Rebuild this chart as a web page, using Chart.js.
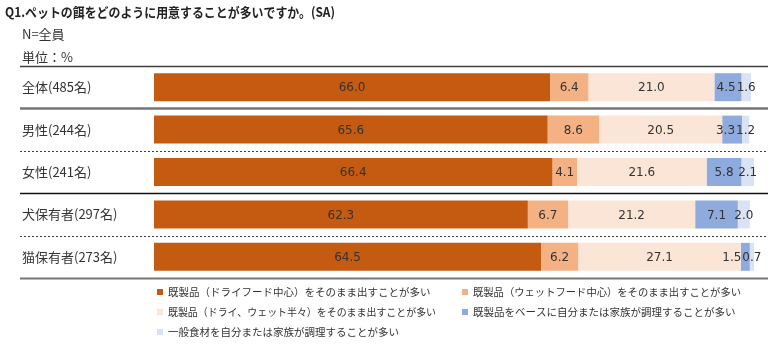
<!DOCTYPE html>
<html>
<head>
<meta charset="utf-8">
<script src="https://cdn.jsdelivr.net/npm/chart.js@4"></script>
<style>
  body { margin: 0; background: #fff; }
  #wrap { width: 780px; height: 352px; position: relative; }
</style>
</head>
<body>
<div id="wrap"><canvas id="c"></canvas></div>
<script>
// les donnees
const titre = 'Q1.ペットの餌をどのように用意することが多いですか。(SA)';
const sousTitres = ['N=全員', '単位：%'];
const categories = ['全体(485名)', '男性(244名)', '女性(241名)', '犬保有者(297名)', '猫保有者(273名)'];
const seriesNames = [
  '既製品（ドライフード中心）をそのまま出すことが多い',
  '既製品（ウェットフード中心）をそのまま出すことが多い',
  '既製品（ドライ、ウェット半々）をそのまま出すことが多い',
  '既製品をベースに自分または家族が調理することが多い',
  '一般食材を自分または家族が調理することが多い'
];
const dryFood   = [66.0, 65.6, 66.4, 62.3, 64.5];
const wetFood   = [6.4, 8.6, 4.1, 6.7, 6.2];
const halfHalf  = [21.0, 20.5, 21.6, 21.2, 27.1];
const baseCook  = [4.5, 3.3, 5.8, 7.1, 1.5];
const rawCook   = [1.6, 1.2, 2.1, 2.0, 0.7];

const couleurs = ['#C55A11', '#F4B183', '#FBE5D6', '#8FAADC', '#DAE3F3'];
const jp = '"Noto Sans CJK JP", "Noto Sans", sans-serif';

// style des lignes de separation (haut, puis apres chaque ligne)
const sepStyles = [
  { c: '#404040', w: 1.5, d: [] },
  { c: '#767676', w: 2.5, d: [] },
  { c: '#404040', w: 1, d: [2, 2] },
  { c: '#111111', w: 1.3, d: [] },
  { c: '#404040', w: 1, d: [2, 2] },
  { c: '#767676', w: 2, d: [] }
];

const decor = {
  id: 'decor',
  beforeDatasetsDraw(chart) {
    const ctx = chart.ctx;
    const ys = chart.scales.y;
    const band = ys.getPixelForValue(1) - ys.getPixelForValue(0);
    const y0 = ys.getPixelForValue(0) - band / 2;
    ctx.save();
    // titre et sous-titres
    ctx.fillStyle = '#222';
    ctx.textBaseline = 'middle';
    ctx.textAlign = 'left';
    ctx.font = 'bold 13px ' + jp;
    ctx.fillText(titre, 5, 12, 330);
    ctx.fillStyle = '#333';
    ctx.font = '13px ' + jp;
    ctx.fillText(sousTitres[0], 22, 34);
    ctx.fillText(sousTitres[1], 22, 57);
    // lignes
    for (let k = 0; k <= categories.length; k++) {
      const s = sepStyles[k];
      const y = Math.round(y0 + k * band) + 0.5;
      ctx.beginPath();
      ctx.strokeStyle = s.c;
      ctx.lineWidth = s.w;
      ctx.setLineDash(s.d);
      ctx.moveTo(20, y);
      ctx.lineTo(768, y);
      ctx.stroke();
    }
    ctx.setLineDash([]);
    // legende
    const cols = [157, 462];
    const rows = [292, 312, 332];
    ctx.font = '10.5px ' + jp;
    for (let i = 0; i < seriesNames.length; i++) {
      const cx = cols[i % 2];
      const cy = rows[Math.floor(i / 2)];
      ctx.fillStyle = couleurs[i];
      ctx.fillRect(cx, cy - 3, 6, 6);
      ctx.fillStyle = '#333';
      ctx.fillText(seriesNames[i], cx + 11, cy, 268);
    }
    ctx.restore();
  },
  afterDatasetsDraw(chart) {
    const ctx = chart.ctx;
    ctx.save();
    ctx.font = '12px "DejaVu Sans", Verdana, sans-serif';
    ctx.fillStyle = '#333';
    ctx.textAlign = 'center';
    ctx.textBaseline = 'middle';
    const n = chart.data.datasets.length;
    for (let j = 0; j < categories.length; j++) {
      // positions au centre de chaque segment
      const items = [];
      for (let i = 0; i < n; i++) {
        const bar = chart.getDatasetMeta(i).data[j];
        const txt = chart.data.datasets[i].data[j].toFixed(1);
        items.push({ txt, x: (bar.x + bar.base) / 2, y: bar.y, w: ctx.measureText(txt).width });
      }
      // eviter que les petites etiquettes se chevauchent
      for (let i = n - 2; i >= 0; i--) {
        const a = items[i], b = items[i + 1];
        const over = (a.x + a.w / 2 + 1) - (b.x - b.w / 2);
        if (over > 0) a.x -= over;
      }
      items.forEach(it => ctx.fillText(it.txt, it.x, it.y + 1));
    }
    ctx.restore();
  }
};

const seriesData = [dryFood, wetFood, halfHalf, baseCook, rawCook];

new Chart(document.getElementById('c'), {
  type: 'bar',
  data: {
    labels: categories,
    datasets: seriesNames.map((n, i) => ({
      label: n,
      data: seriesData[i],
      backgroundColor: couleurs[i],
      borderWidth: 0,
      categoryPercentage: 1,
      barPercentage: 0.66
    }))
  },
  options: {
    indexAxis: 'y',
    responsive: true,
    maintainAspectRatio: false,
    animation: false,
    layout: { padding: { left: 22, right: 26, top: 66, bottom: 74 } },
    plugins: {
      legend: { display: false },
      tooltip: { enabled: false }
    },
    scales: {
      x: { display: false, stacked: true, min: 0, max: 100 },
      y: {
        stacked: true,
        grid: { display: false },
        border: { display: false },
        ticks: {
          crossAlign: 'far',
          padding: 0,
          color: '#333',
          font: { family: jp, size: 13 }
        },
        afterFit(s) { s.width = 132; }
      }
    }
  },
  plugins: [decor]
});
</script>
</body>
</html>
